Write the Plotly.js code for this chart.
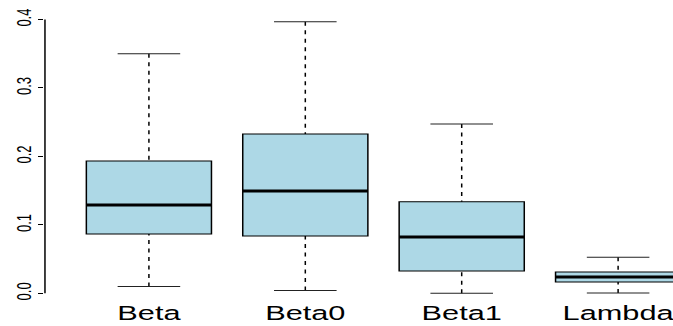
<!DOCTYPE html>
<html>
<head>
<meta charset="utf-8">
<script src="https://cdn.plot.ly/plotly-3.0.1.min.js"></script>
<style>
  html, body { margin: 0; padding: 0; background: #fff; overflow: hidden; }
  #wrap { width: 673px; height: 326px; overflow: hidden; }
  /* the chart is laid out narrow and widened horizontally */
  #chart { width: 449px; height: 326px; transform: scaleX(1.49889); transform-origin: 0 0; }
</style>
</head>
<body>
<div id="wrap"><div id="chart"></div></div>
<script>
// Summary statistics for each parameter
const categories    = ['Beta', 'Beta0', 'Beta1', 'Lambda'];
const lowerWhisker  = [0.0100, 0.0040, 0.0000, 0.0005];
const lowerQuartile = [0.0866, 0.0837, 0.0326, 0.0165];
const medians       = [0.1290, 0.1494, 0.0822, 0.0238];
const upperQuartile = [0.1933, 0.2326, 0.1338, 0.0311];
const upperWhisker  = [0.3500, 0.3968, 0.2473, 0.0526];

const yTicks      = [0, 0.1, 0.2, 0.3, 0.4];
const yTickLabels = ['0.0', '0.1', '0.2', '0.3', '0.4'];

const positions = categories.map((_, i) => i + 1);
const boxHalf = 0.4;     // half box width (x units)
const capHalf = 0.2;     // half staple width
const font = 'Liberation Sans, Arial, Helvetica, sans-serif';

const xRange = [0.3354, 4.351];
const yRange = [-0.0083, 0.4139];

// boxes (whiskers are drawn separately so they can be dashed)
const boxes = {
  type: 'box',
  x: positions,
  q1: lowerQuartile,
  median: medians,
  q3: upperQuartile,
  lowerfence: lowerQuartile,
  upperfence: upperQuartile,
  width: 2 * boxHalf,
  whiskerwidth: 0,
  fillcolor: '#ADD8E6',
  line: { color: '#000', width: 1 },
  hoverinfo: 'skip',
  showlegend: false
};

const wx = [], wy = [], cx = [], cy = [], mx = [], my = [];
positions.forEach((p, i) => {
  wx.push(p, p, null, p, p, null);
  wy.push(upperWhisker[i], upperQuartile[i], null, lowerWhisker[i], lowerQuartile[i], null);
  cx.push(p - capHalf, p + capHalf, null, p - capHalf, p + capHalf, null);
  cy.push(upperWhisker[i], upperWhisker[i], null, lowerWhisker[i], lowerWhisker[i], null);
  mx.push(p - boxHalf, p + boxHalf, null);
  my.push(medians[i], medians[i], null);
});

const whiskers = {
  type: 'scatter', mode: 'lines', x: wx, y: wy,
  line: { color: '#000', width: 1, dash: '4px,4.5px' },
  hoverinfo: 'skip', showlegend: false
};
const staples = {
  type: 'scatter', mode: 'lines', x: cx, y: cy,
  line: { color: '#222', width: 1 },
  hoverinfo: 'skip', showlegend: false
};
const medianLines = {
  type: 'scatter', mode: 'lines', x: mx, y: my,
  line: { color: '#000', width: 3 },
  hoverinfo: 'skip', showlegend: false
};

// y axis line spanning only the labelled ticks
const span = yRange[1] - yRange[0];
const axisLine = {
  type: 'line', xref: 'paper', yref: 'paper',
  x0: 0, x1: 0,
  y0: (yTicks[0] - yRange[0]) / span,
  y1: (yTicks[yTicks.length - 1] - yRange[0]) / span,
  line: { color: '#000', width: 1 }
};

const layout = {
  width: 449, height: 326,
  margin: { l: 30, r: 0, t: 10, b: 27, pad: 0 },
  paper_bgcolor: '#fff', plot_bgcolor: '#fff',
  showlegend: false,
  font: { family: font, color: '#000' },
  xaxis: {
    range: xRange,
    tickvals: positions, ticktext: categories,
    ticks: '', showline: false, showgrid: false, zeroline: false,
    ticklabeloverflow: 'allow',
    tickfont: { family: font, size: 20.5, color: '#000' },
    automargin: false, fixedrange: true
  },
  yaxis: {
    range: yRange,
    tickvals: yTicks, ticktext: yTickLabels,
    ticks: 'outside', ticklen: 3.4, tickwidth: 1, tickcolor: '#000',
    tickangle: -90,
    showline: false, showgrid: false, zeroline: false,
    tickfont: { family: font, size: 13, color: '#000' },
    automargin: false, fixedrange: true
  },
  shapes: [axisLine]
};

Plotly.newPlot('chart', [boxes, whiskers, staples, medianLines], layout,
  { displayModeBar: false, staticPlot: true });
</script>
</body>
</html>
